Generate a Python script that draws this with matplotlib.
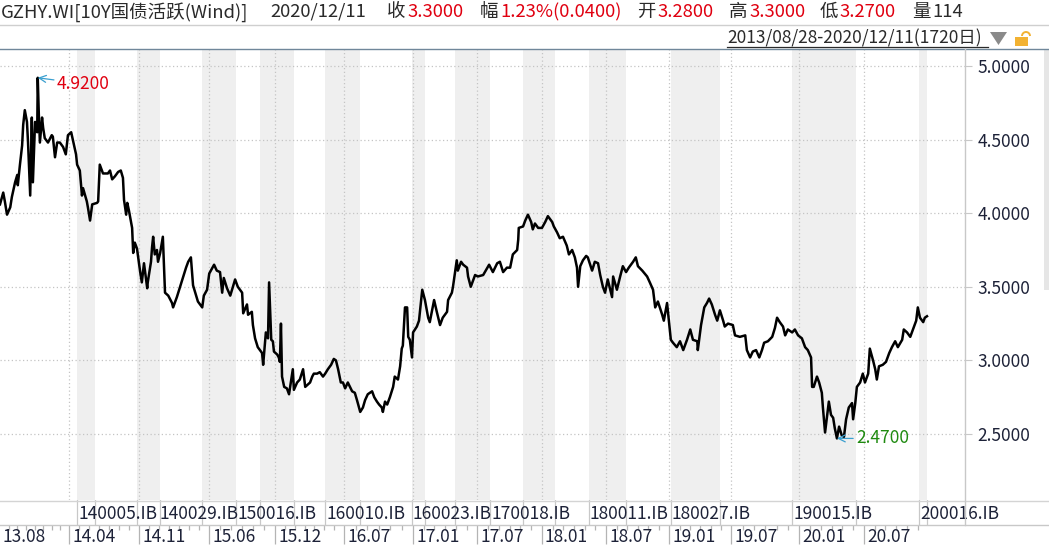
import numpy as np
import matplotlib
matplotlib.use("Agg")
import matplotlib.pyplot as plt
import matplotlib.transforms as mtransforms
from matplotlib.lines import Line2D
from matplotlib.patches import Rectangle, Polygon, Arc

plt.rcParams['font.family'] = ['Noto Sans CJK SC', 'DejaVu Sans']

# 10Y国债活跃 收益率 (交易日序号, 收益率%)
day_idx = [
    0, 6, 9, 13, 19, 22, 28, 32, 33, 37, 41, 43, 46, 50, 52, 56, 59, 61, 65, 69,
    70, 72, 74, 78, 80, 83, 89, 96, 98, 102, 106, 111, 117, 122, 126, 132, 135, 141, 143, 148,
    152, 154, 161, 163, 167, 171, 180, 182, 185, 191, 200, 204, 208, 213, 219, 224, 228, 230, 234, 236,
    239, 245, 247, 250, 254, 260, 263, 267, 273, 274, 280, 282, 284, 287, 291, 293, 297, 302, 306, 312,
    319, 321, 328, 334, 339, 345, 349, 354, 358, 362, 367, 375, 378, 384, 388, 397, 402, 408, 412, 415,
    421, 427, 436, 441, 449, 451, 458, 460, 467, 469, 473, 478, 486, 488, 490, 493, 497, 499, 503, 506,
    508, 514, 517, 519, 521, 523, 527, 532, 536, 540, 543, 545, 551, 556, 562, 566, 569, 575, 579, 582,
    588, 593, 599, 603, 608, 614, 619, 623, 627, 632, 636, 640, 645, 653, 658, 662, 668, 673, 677, 682,
    690, 694, 699, 703, 708, 710, 714, 718, 723, 729, 732, 738, 742, 745, 747, 751, 755, 757, 760, 764,
    766, 773, 777, 783, 788, 794, 797, 805, 810, 816, 821, 829, 831, 838, 840, 847, 849, 855, 859, 866,
    868, 873, 881, 886, 896, 907, 914, 922, 927, 933, 940, 946, 951, 959, 961, 962, 970, 974, 979, 985,
    988, 992, 998, 1005, 1011, 1016, 1024, 1027, 1033, 1038, 1044, 1051, 1055, 1061, 1066, 1070, 1072, 1076, 1081, 1087,
    1090, 1098, 1103, 1109, 1113, 1118, 1122, 1127, 1135, 1137, 1144, 1150, 1155, 1161, 1166, 1174, 1179, 1183, 1191, 1200,
    1205, 1211, 1215, 1220, 1228, 1231, 1237, 1239, 1244, 1248, 1255, 1261, 1267, 1274, 1280, 1285, 1293, 1294, 1300, 1306,
    1311, 1315, 1320, 1326, 1330, 1335, 1341, 1344, 1350, 1359, 1363, 1372, 1382, 1385, 1391, 1396, 1402, 1408, 1413, 1417,
    1424, 1432, 1437, 1441, 1446, 1452, 1456, 1461, 1469, 1474, 1480, 1487, 1493, 1498, 1504, 1506, 1509, 1515, 1519, 1524,
    1526, 1530, 1534, 1537, 1541, 1545, 1548, 1552, 1556, 1561, 1565, 1569, 1574, 1580, 1582, 1586, 1589, 1595, 1600, 1604,
    1610, 1613, 1619, 1623, 1626, 1630, 1637, 1643, 1649, 1654, 1660, 1665, 1673, 1676, 1682, 1688, 1693, 1699, 1702, 1706,
    1712, 1715, 1719,
]
yield_vals = [
    4.06, 4.14, 4.08, 3.99, 4.04, 4.11, 4.21, 4.26, 4.19, 4.33, 4.46, 4.60, 4.70, 4.62, 4.48, 4.12, 4.65, 4.21, 4.62, 4.55,
    4.92, 4.67, 4.48, 4.65, 4.58, 4.51, 4.48, 4.53, 4.52, 4.38, 4.48, 4.48, 4.45, 4.40, 4.53, 4.55, 4.50, 4.40, 4.33, 4.29,
    4.12, 4.17, 4.08, 4.04, 3.95, 4.06, 4.07, 4.08, 4.33, 4.27, 4.27, 4.29, 4.23, 4.25, 4.28, 4.29, 4.24, 4.09, 3.99, 4.07,
    4.02, 3.90, 3.73, 3.80, 3.76, 3.60, 3.53, 3.66, 3.49, 3.53, 3.67, 3.77, 3.84, 3.72, 3.75, 3.67, 3.73, 3.84, 3.46, 3.44,
    3.39, 3.36, 3.43, 3.50, 3.56, 3.63, 3.67, 3.70, 3.51, 3.46, 3.40, 3.36, 3.44, 3.48, 3.59, 3.65, 3.61, 3.60, 3.46, 3.56,
    3.49, 3.44, 3.55, 3.50, 3.46, 3.32, 3.38, 3.31, 3.33, 3.24, 3.15, 3.09, 3.05, 2.97, 3.06, 3.19, 3.15, 3.53, 3.14, 3.13,
    3.06, 3.04, 3.02, 2.99, 3.25, 2.89, 2.82, 2.81, 2.77, 2.87, 2.94, 2.80, 2.85, 2.87, 2.94, 2.82, 2.83, 2.85, 2.89, 2.91,
    2.91, 2.92, 2.89, 2.91, 2.94, 2.97, 3.01, 3.00, 2.94, 2.85, 2.85, 2.81, 2.85, 2.79, 2.78, 2.73, 2.65, 2.68, 2.73, 2.77,
    2.79, 2.75, 2.72, 2.70, 2.68, 2.65, 2.72, 2.70, 2.75, 2.82, 2.89, 2.87, 2.96, 3.08, 3.10, 3.36, 3.36, 3.16, 3.14, 3.02,
    3.19, 3.23, 3.27, 3.48, 3.41, 3.29, 3.26, 3.41, 3.33, 3.24, 3.29, 3.33, 3.41, 3.46, 3.50, 3.68, 3.61, 3.67, 3.65, 3.63,
    3.57, 3.50, 3.58, 3.57, 3.58, 3.65, 3.60, 3.66, 3.67, 3.60, 3.63, 3.63, 3.72, 3.75, 3.82, 3.90, 3.91, 3.95, 3.99, 3.94,
    3.89, 3.93, 3.90, 3.90, 3.94, 3.98, 3.94, 3.91, 3.87, 3.83, 3.84, 3.78, 3.72, 3.75, 3.70, 3.63, 3.50, 3.64, 3.68, 3.71,
    3.70, 3.61, 3.67, 3.66, 3.58, 3.50, 3.46, 3.55, 3.43, 3.57, 3.48, 3.57, 3.64, 3.60, 3.63, 3.67, 3.70, 3.64, 3.61, 3.57,
    3.53, 3.48, 3.36, 3.40, 3.31, 3.27, 3.39, 3.32, 3.14, 3.12, 3.09, 3.13, 3.07, 3.14, 3.21, 3.14, 3.13, 3.07, 3.24, 3.36,
    3.39, 3.42, 3.38, 3.31, 3.27, 3.34, 3.27, 3.23, 3.25, 3.24, 3.17, 3.16, 3.17, 3.07, 3.02, 3.06, 3.07, 3.02, 3.07, 3.12,
    3.13, 3.16, 3.22, 3.29, 3.26, 3.23, 3.17, 3.21, 3.19, 3.21, 3.17, 3.15, 3.09, 3.07, 3.02, 2.82, 2.82, 2.89, 2.85, 2.78,
    2.68, 2.51, 2.63, 2.72, 2.63, 2.61, 2.54, 2.47, 2.55, 2.49, 2.48, 2.60, 2.68, 2.71, 2.60, 2.71, 2.82, 2.85, 2.91, 2.85,
    2.91, 3.08, 3.00, 2.94, 2.87, 2.96, 2.97, 2.99, 3.05, 3.09, 3.13, 3.09, 3.14, 3.21, 3.19, 3.16, 3.21, 3.27, 3.36, 3.29,
    3.26, 3.29, 3.30,
]

# 月份刻度 (交易日序号)
major_days = [128, 258, 388, 510, 638, 766, 885, 1005, 1124, 1241, 1356, 1482, 1602]
major_labels = ['14.04', '14.11', '15.06', '15.12', '16.07', '17.01', '17.07',
                '18.01', '18.07', '19.01', '19.07', '20.01', '20.07']
first_label = '13.08'
months_between = [8, 7, 7, 6, 7, 6, 6, 6, 6, 6, 6, 6, 6]

# 活跃券切换区间
band_start = [143, 254, 375, 482, 603, 764, 844, 970, 1092, 1244, 1469, 1704]
band_end = [176, 297, 438, 545, 668, 788, 909, 1029, 1161, 1335, 1587, 1719]
bond_days = [143, 293, 438, 603, 764, 909, 1092, 1244, 1469, 1704]
bond_labels = ['140005.IB', '140029.IB', '150016.IB', '160010.IB', '160023.IB',
               '170018.IB', '180011.IB', '180027.IB', '190015.IB', '200016.IB']

y_ticks = [2.5, 3.0, 3.5, 4.0, 4.5, 5.0]

W, H = 1049, 554
fig = plt.figure(figsize=(W / 100, H / 100), dpi=100)


def fx(px):
    return px / W


def fy(py):
    return 1 - py / H


X_MAX = 1789.5
GRID = '#c4c4c4'
EDGE = '#c8c8c8'

# 主图
ax = fig.add_axes([0, fy(500), fx(965), (500 - 49) / H])
ax.set_xlim(0, X_MAX)
ax.set_ylim(2.0516, 5.1155)
for s in ax.spines.values():
    s.set_visible(False)
for a, b in zip(band_start, band_end):
    ax.axvspan(a, b, color='#efefef', lw=0, zorder=0)
for d in major_days:
    ax.axvline(d, color=GRID, lw=0.9, ls=(0, (1, 2)), zorder=1)
ax.set_xticks([])
ax.yaxis.tick_right()
ax.set_yticks(y_ticks)
ax.set_yticklabels([f'{v:.4f}' for v in y_ticks])
ax.tick_params(axis='y', direction='out', length=5, width=0.8, color=EDGE,
               pad=4, labelsize=12.5, labelcolor='#1d2238')
ax.grid(axis='y', color=GRID, lw=0.9, ls=(0, (1, 2)), zorder=1)
ax.plot(day_idx, yield_vals, color='black', lw=1.8, zorder=3)

i_max = int(np.argmax(yield_vals))
i_min = int(np.argmin(yield_vals))
ax.annotate(f'{yield_vals[i_max]:.4f}', xy=(day_idx[i_max], yield_vals[i_max]),
            xytext=(19, -6), textcoords='offset pixels', ha='left', va='center',
            fontsize=12.5, color='#e00010', zorder=5,
            arrowprops=dict(arrowstyle='->', color='#3a9fcf', lw=0.9, shrinkA=0, shrinkB=0))
ax.annotate(f'{yield_vals[i_min]:.4f}', xy=(day_idx[i_min], yield_vals[i_min]),
            xytext=(19, 0), textcoords='offset pixels', ha='left', va='center',
            fontsize=12.5, color='#1f8a10', zorder=5,
            arrowprops=dict(arrowstyle='->', color='#3a9fcf', lw=0.9, shrinkA=0, shrinkB=0))

# 活跃券代码条
axb = fig.add_axes([0, fy(525), fx(965), 25 / H])
axb.set_xlim(0, X_MAX)
axb.set_ylim(0, 1)
axb.axis('off')
for d in sorted(set(band_start + band_end)):
    axb.axvline(d, color=EDGE, lw=0.9)
trb = mtransforms.blended_transform_factory(axb.transData, axb.transAxes)
ends = bond_days[1:] + [X_MAX]
for d, e, lab in zip(bond_days, ends, bond_labels):
    t = axb.text(d, 0.44, lab, transform=mtransforms.offset_copy(trb, fig, x=1, units='dots'),
                 ha='left', va='center', fontsize=12.5, color='#1d2238')
    t.set_clip_path(Rectangle((d, 0), e - d, 1, transform=trb))

# 日期轴
axd = fig.add_axes([0, 0, fx(965), 29 / H])
axd.set_xlim(0, X_MAX)
axd.set_ylim(0, 1)
for s in axd.spines.values():
    s.set_visible(False)
axd.set_yticks([])
minor = []
starts = [0] + major_days
for a, b, n in zip(starts[:-1], starts[1:], months_between):
    minor += list(np.linspace(a, b, n + 1)[1:-1])
step = (major_days[-1] - major_days[-2]) / 6
minor += [major_days[-1] + step * k for k in range(1, 6)]
axd.xaxis.set_ticks_position('top')
axd.set_xticks(major_days)
axd.set_xticks(minor, minor=True)
axd.tick_params(axis='x', which='major', direction='in', length=14, width=0.9,
                color='#b4b4b4', labeltop=False, labelbottom=False)
axd.tick_params(axis='x', which='minor', direction='in', length=3.5, width=0.9,
                color='#b4b4b4')
trd = mtransforms.blended_transform_factory(axd.transData, axd.transAxes)
axd.text(0, 0.58, first_label, transform=mtransforms.offset_copy(trd, fig, x=2, units='dots'),
         ha='left', va='center', fontsize=12.5, color='#1d2238')
for d, lab in zip(major_days, major_labels):
    axd.text(d, 0.58, lab, transform=mtransforms.offset_copy(trd, fig, x=3, units='dots'),
             ha='left', va='center', fontsize=12.5, color='#1d2238')

# 边框线
def hline(y, x0, x1, color, lw=1.0):
    fig.add_artist(Line2D([fx(x0), fx(x1)], [fy(y), fy(y)], transform=fig.transFigure,
                          color=color, lw=lw))


hline(25, 0, W, '#cfcfcf')
hline(49, 0, W, '#70879a')
hline(500.5, 0, W, '#d4d4d4')
hline(525, 0, W, EDGE)
fig.add_artist(Line2D([fx(965), fx(965)], [fy(49), fy(525)], transform=fig.transFigure,
                      color=EDGE, lw=1.0))
fig.add_artist(Rectangle((fx(1044), fy(290)), fx(5), (290 - 50) / H,
                         transform=fig.transFigure, color='#e6e6e6', lw=0))

# 顶部行情信息
DARK = '#2a2a2a'
RED = '#e00010'
head = [
    (1, 'GZHY.WI[10Y国债活跃(Wind)]', DARK),
    (270, '2020/12/11', DARK),
    (387, '收', DARK), (408, '3.3000', RED),
    (480, '幅', DARK), (500, '1.23%(0.0400)', RED),
    (637, '开', DARK), (658, '3.2800', RED),
    (729, '高', DARK), (750, '3.3000', RED),
    (820, '低', DARK), (840, '3.2700', RED),
    (912, '量', DARK), (932, '114', DARK),
]
for x, s, c in head:
    fig.text(fx(x), fy(12), s, ha='left', va='center', fontsize=13.3, color=c)

fig.text(fx(727), fy(38), '2013/08/28-2020/12/11(1720日)', ha='left', va='center',
         fontsize=12.5, color=DARK)
hline(46.5, 727, 988, DARK, lw=0.9)
fig.add_artist(Polygon([(fx(990), fy(32)), (fx(1007), fy(32)), (fx(998.5), fy(45))],
                       closed=True, transform=fig.transFigure, color='#8a8a8a', lw=0))
fig.add_artist(Rectangle((fx(1015), fy(46)), fx(13), 9 / H, transform=fig.transFigure,
                         color='#f2b233', lw=0))
fig.add_artist(Arc((fx(1026), fy(36)), fx(8), 8 / H, theta1=0, theta2=180,
                   transform=fig.transFigure, color='#f2b233', lw=1.4))

fig.savefig('out.png', dpi=100)
